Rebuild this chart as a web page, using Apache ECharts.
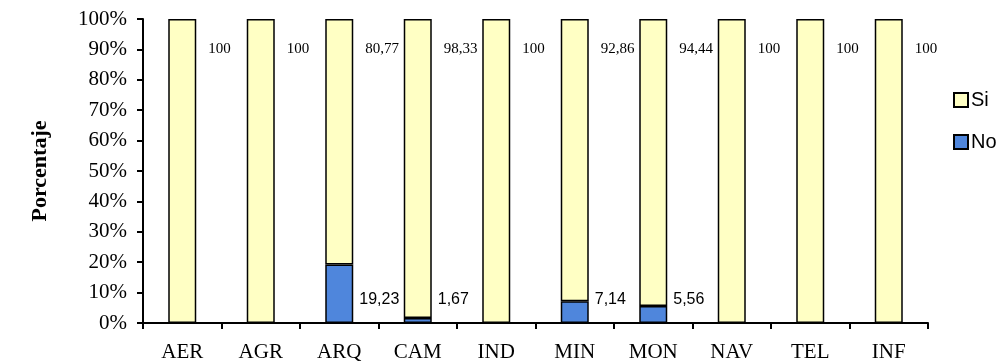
<!DOCTYPE html>
<html><head><meta charset="utf-8">
<script src="https://cdn.jsdelivr.net/npm/echarts@6/dist/echarts.min.js"></script>
<style>html,body{margin:0;padding:0;background:#fff}#c{width:1001px;height:363px}</style>
</head><body><div id="c"></div>
<script>
const categories = ['AER','AGR','ARQ','CAM','IND','MIN','MON','NAV','TEL','INF'];
const siValues = [100,100,80.77,98.33,100,92.86,94.44,100,100,100];
const noValues = [0,0,19.23,1.67,0,7.14,5.56,0,0,0];
const yTicks = [0,10,20,30,40,50,60,70,80,90,100];

const fmt = v => v ? String(v).replace('.', ',') : '';
const chart = echarts.init(document.getElementById('c'));
chart.setOption({
  animation:false,
  grid:{left:143,right:73,top:19,bottom:40},
  legend:{
    orient:'vertical', left:948, top:85, itemGap:22, itemWidth:14, itemHeight:14,
    icon:'rect',
    textStyle:{fontFamily:'Liberation Sans',fontSize:20,color:'#000',padding:[0,0,0,-2]},
    data:['Si','No']
  },
  xAxis:{
    type:'category', data:categories,
    axisLine:{lineStyle:{color:'#000',width:2}},
    axisTick:{show:true,alignWithLabel:false,length:6,lineStyle:{color:'#000',width:2}},
    axisLabel:{fontFamily:'Liberation Serif',fontSize:21,color:'#000',margin:19}
  },
  yAxis:{
    type:'value', min:yTicks[0], max:yTicks[yTicks.length-1], interval:10,
    name:'Porcentaje', nameLocation:'middle', nameGap:92, nameRotate:90,
    nameTextStyle:{fontFamily:'Liberation Serif',fontSize:22,fontWeight:'bold',color:'#000'},
    axisLine:{show:true,lineStyle:{color:'#000',width:2}},
    axisTick:{show:true,length:6,lineStyle:{color:'#000',width:2}},
    splitLine:{show:false},
    axisLabel:{fontFamily:'Liberation Serif',fontSize:21,color:'#000',margin:16,formatter:v=>v+'%'}
  },
  series:[
    {name:'No',type:'bar',stack:'t',barWidth:28,data:noValues,
     itemStyle:{color:'#4f86dc',borderColor:'#000',borderWidth:1.5},
     label:{show:true,position:'insideBottomLeft',distance:0,offset:[34,-15],
       fontFamily:'Liberation Sans',fontSize:16,color:'#000',formatter:p=>fmt(p.value)}},
    {name:'Si',type:'bar',stack:'t',barWidth:28,data:siValues,
     itemStyle:{color:'#ffffc4',borderColor:'#000',borderWidth:1.5},
     label:{show:true,position:'insideTopLeft',distance:0,offset:[40,23],
       fontFamily:'Liberation Serif',fontSize:15,color:'#000',formatter:p=>fmt(p.value)}}
  ]
});
</script></body></html>
